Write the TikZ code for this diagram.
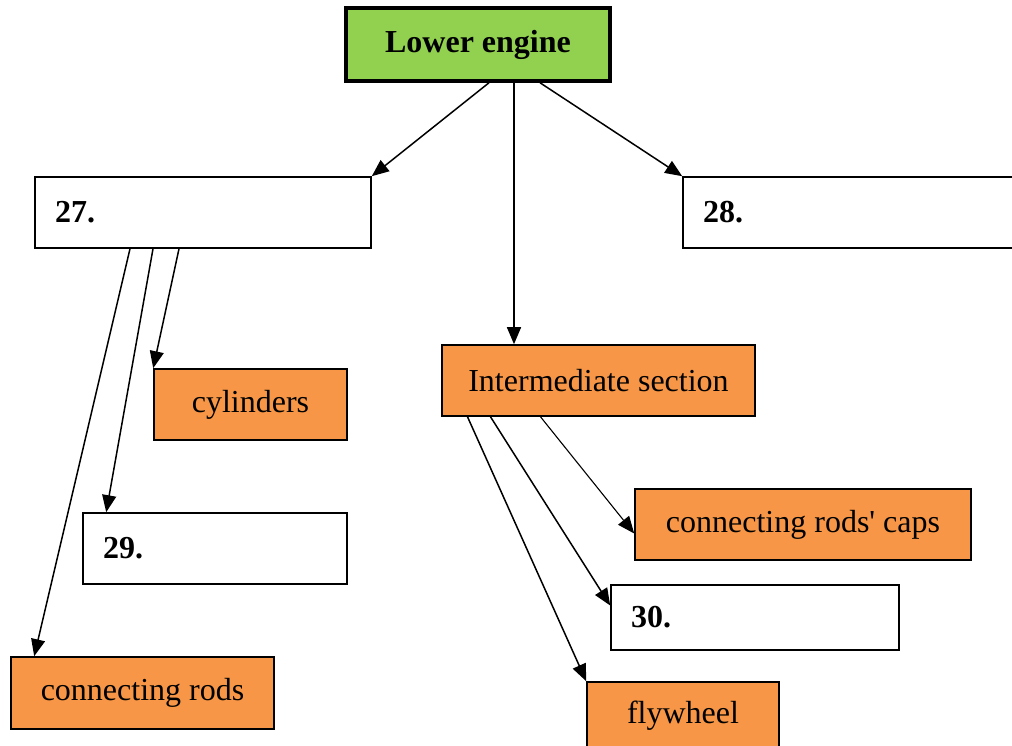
\documentclass[tikz,border=0pt]{standalone}
\usepackage{fontspec}
\setmainfont{Liberation Serif}
\usetikzlibrary{arrows.meta}

\definecolor{leafgreen}{HTML}{92D050}
\definecolor{partorange}{HTML}{F79646}

\tikzset{
  part/.style={draw, line width=1.6pt, fill=partorange, inner sep=0pt,
    minimum height=71pt, font=\fontsize{32}{38}\selectfont},
  blank/.style={draw, line width=1.6pt, fill=white, inner xsep=20pt, inner ysep=0pt,
    align=left, minimum height=71pt, font=\fontsize{32}{38}\selectfont\bfseries},
  link/.style={-{Triangle[length=17pt,width=14pt]}, line width=1.5pt},
}

\begin{document}
\begin{tikzpicture}[x=1pt, y=-1pt]
  \useasboundingbox (0,0) rectangle (1012,746);
  \clip (0,0) rectangle (1012,746);

  % top of the tree
  \node[draw, line width=3.5pt, fill=leafgreen, inner sep=0pt, minimum width=264pt, minimum height=73pt,
        font=\fontsize{32}{38}\selectfont\bfseries] (le) at (478,44.5) {Lower engine};

  % second row
  \node[blank, text width=296pt] (n27) at (203,212.5) {27.};
  \node[blank, text width=317pt] (n28) at (861.5,212.5) {28.};
  \node[part, minimum width=313pt] (is) at (598.5,380.5) {Intermediate section};

  % parts under 27.
  \node[part, minimum width=193pt] (cyl) at (250.5,404.5) {cylinders};
  \node[blank, text width=224pt] (n29) at (215,548.5) {29.};
  \node[part, minimum width=263pt, minimum height=72pt] (rods) at (142.5,693) {connecting rods};

  % parts under the intermediate section
  \node[part, minimum width=336pt] (caps) at (803,524.5) {connecting rods\textquotesingle{} caps};
  \node[blank, text width=248pt, minimum height=65pt] (n30) at (755,617.5) {30.};
  \node[part, minimum width=192pt, minimum height=68pt] (fw) at (683,716) {flywheel};

  % connectors
  \draw[link] ([xshift=11pt]le.south) -- (n27.north east);
  \draw[link] ([xshift=36pt]le.south) -- ([xshift=36pt]le.south |- is.north);
  \draw[link] ([xshift=62pt]le.south) -- (n28.north west);

  \draw[link] ([xshift=-24pt]n27.south) -- (cyl.north west);
  \draw[link] ([xshift=-50pt]n27.south) -- ([xshift=24pt]n29.north west);
  \draw[link] ([xshift=-73pt]n27.south) -- ([xshift=24pt]rods.north west);

  \draw[link, line width=1.1pt] ([xshift=-58pt]is.south) -- ([yshift=-9pt]caps.west);
  \draw[link] ([xshift=-108pt]is.south) -- ([yshift=12pt]n30.west);
  \draw[link] ([xshift=-131pt]is.south) -- (fw.north west);
\end{tikzpicture}
\end{document}
